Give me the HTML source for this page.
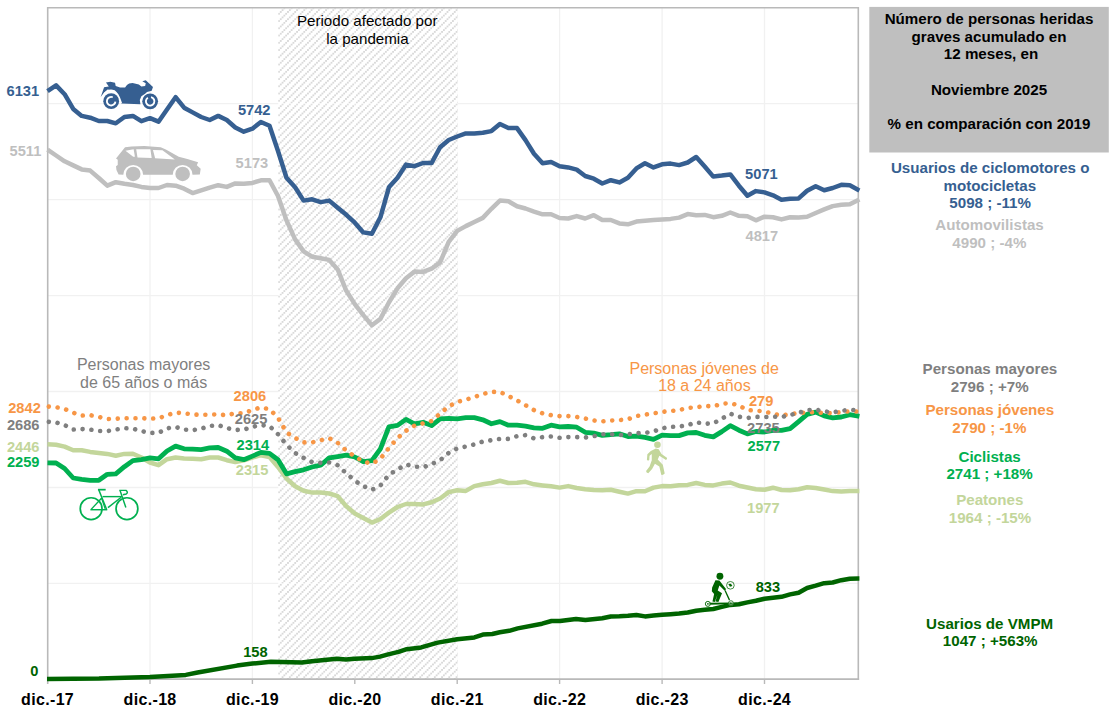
<!DOCTYPE html>
<html><head><meta charset="utf-8"><title>Chart</title>
<style>
html,body{margin:0;padding:0;background:#fff;}
body{width:1117px;height:713px;overflow:hidden;}
svg{display:block;font-family:"Liberation Sans",sans-serif;}
.b{font-weight:bold;}
</style></head><body>
<svg width="1117" height="713" viewBox="0 0 1117 713">
<defs>
<pattern id="hatch" width="7.250" height="7.250" patternUnits="userSpaceOnUse" x="276.2" y="60.0">
<rect width="7.250" height="7.250" fill="#ffffff"/>
<rect x="5.544" y="0.106" width="1.60" height="1.60" fill="#cfcfcf"/>
<rect x="3.731" y="1.919" width="1.60" height="1.60" fill="#cfcfcf"/>
<rect x="1.919" y="3.731" width="1.60" height="1.60" fill="#cfcfcf"/>
<rect x="0.106" y="5.544" width="1.60" height="1.60" fill="#cfcfcf"/>
</pattern>
</defs>
<rect width="1117" height="713" fill="#ffffff"/>

<g stroke="#f1f1f1" stroke-width="1.3" fill="none">
<line x1="150.0" y1="8" x2="150.0" y2="679"/>
<line x1="252.4" y1="8" x2="252.4" y2="679"/>
<line x1="354.8" y1="8" x2="354.8" y2="679"/>
<line x1="457.2" y1="8" x2="457.2" y2="679"/>
<line x1="559.6" y1="8" x2="559.6" y2="679"/>
<line x1="662.1" y1="8" x2="662.1" y2="679"/>
<line x1="764.5" y1="8" x2="764.5" y2="679"/>
<line x1="47" y1="103.7" x2="858" y2="103.7"/>
<line x1="47" y1="199.6" x2="858" y2="199.6"/>
<line x1="47" y1="295.6" x2="858" y2="295.6"/>
<line x1="47" y1="391.5" x2="858" y2="391.5"/>
<line x1="47" y1="487.5" x2="858" y2="487.5"/>
<line x1="47" y1="583.4" x2="858" y2="583.4"/>
</g>
<rect x="278.3" y="8.4" width="179.5" height="670.6" fill="url(#hatch)"/>
<g stroke="#ffffff" stroke-opacity="0.55" stroke-width="1.3">
<line x1="354.8" y1="8" x2="354.8" y2="679"/>
<line x1="278.3" y1="103.7" x2="457.8" y2="103.7"/>
<line x1="278.3" y1="199.6" x2="457.8" y2="199.6"/>
<line x1="278.3" y1="295.6" x2="457.8" y2="295.6"/>
<line x1="278.3" y1="391.5" x2="457.8" y2="391.5"/>
<line x1="278.3" y1="487.5" x2="457.8" y2="487.5"/>
<line x1="278.3" y1="583.4" x2="457.8" y2="583.4"/>
</g>
<g stroke="#b9b9b9" stroke-width="1.6" fill="none">
<polyline points="47.7,684 47.7,7.7 858.3,7.7 858.3,679.9"/>
<line x1="47.7" y1="679.1" x2="859.1" y2="679.1" stroke-width="1.8"/>
<line x1="150.0" y1="679.1" x2="150.0" y2="684" stroke-width="1.4"/>
<line x1="252.4" y1="679.1" x2="252.4" y2="684" stroke-width="1.4"/>
<line x1="354.8" y1="679.1" x2="354.8" y2="684" stroke-width="1.4"/>
<line x1="457.2" y1="679.1" x2="457.2" y2="684" stroke-width="1.4"/>
<line x1="559.6" y1="679.1" x2="559.6" y2="684" stroke-width="1.4"/>
<line x1="662.1" y1="679.1" x2="662.1" y2="684" stroke-width="1.4"/>
<line x1="764.5" y1="679.1" x2="764.5" y2="684" stroke-width="1.4"/>
</g>
<g fill="none" stroke-linejoin="round" stroke-linecap="butt">
<polyline points="47.5,149.6 56.1,155.5 64.6,161.3 73.2,165.4 81.7,169.4 90.2,170.6 98.8,178.0 107.3,185.7 115.8,182.2 124.4,183.8 132.9,185.0 141.4,186.9 150.0,188.0 158.5,188.0 167.0,185.0 175.6,185.7 184.1,188.7 192.6,193.1 201.2,190.4 209.7,187.6 218.2,185.2 226.8,186.9 235.3,183.4 243.8,183.8 252.4,182.9 260.9,180.3 269.5,180.3 278.0,196.0 286.5,220.4 295.1,239.4 303.6,251.4 312.1,256.7 320.7,258.3 329.2,259.9 337.7,269.4 346.3,290.8 354.8,304.1 363.3,315.1 371.9,325.2 380.4,318.9 388.9,302.5 397.5,288.3 406.0,278.2 414.5,271.6 423.1,271.9 431.6,268.7 440.1,262.4 448.7,241.9 457.2,230.9 465.8,226.1 474.3,222.0 482.8,217.9 491.4,208.8 499.9,200.6 508.4,201.3 517.0,206.3 525.5,208.5 534.0,211.6 542.6,214.3 551.1,214.3 559.6,218.0 568.2,218.5 576.7,216.1 585.2,218.5 593.8,215.2 602.3,220.0 610.8,220.0 619.4,223.4 627.9,224.3 636.4,221.6 645.0,220.7 653.5,220.0 662.1,219.4 670.6,218.9 679.1,217.6 687.7,214.1 696.2,215.2 704.7,214.9 713.3,217.2 721.8,215.8 730.3,212.5 738.9,215.8 747.4,216.3 755.9,220.3 764.5,216.7 773.0,217.2 781.5,219.4 790.1,217.2 798.6,217.6 807.1,216.7 815.7,213.0 824.2,209.4 832.7,206.1 841.3,204.8 849.8,204.3 858.4,199.9 859.4,199.4" stroke="#bfbfbf" stroke-width="4.5"/>
<polyline points="47.5,91.2 56.1,85.4 64.6,94.2 73.2,108.9 81.7,115.9 90.2,117.7 98.8,121.0 107.3,121.0 115.8,123.3 124.4,117.0 132.9,115.9 141.4,121.2 150.0,118.2 158.5,121.7 167.0,109.5 175.6,97.2 184.1,107.7 192.6,112.4 201.2,117.0 209.7,120.0 218.2,115.9 226.8,120.0 235.3,127.5 243.8,131.7 252.4,128.7 260.9,122.0 269.5,125.7 278.0,151.0 286.5,177.8 295.1,187.3 303.6,200.6 312.1,199.3 320.7,202.1 329.2,200.6 337.7,207.8 346.3,214.8 354.8,222.7 363.3,232.4 371.9,233.7 380.4,217.3 388.9,187.3 397.5,177.8 406.0,164.6 414.5,166.2 423.1,163.0 431.6,163.0 440.1,147.2 448.7,140.0 457.2,136.5 465.8,133.4 474.3,133.4 482.8,132.7 491.4,131.1 499.9,124.0 508.4,128.0 517.0,128.1 525.5,140.1 534.0,153.8 542.6,163.2 551.1,162.0 559.6,166.2 568.2,167.4 576.7,169.6 585.2,176.0 593.8,178.7 602.3,183.5 610.8,180.2 619.4,182.4 627.9,177.8 636.4,168.4 645.0,163.2 653.5,167.4 662.1,164.3 670.6,163.6 679.1,165.1 687.7,162.5 696.2,157.0 704.7,166.5 713.3,176.6 721.8,175.6 730.3,174.4 738.9,185.7 747.4,195.7 755.9,191.1 764.5,192.4 773.0,195.3 781.5,199.7 790.1,198.8 798.6,198.4 807.1,190.8 815.7,186.2 824.2,190.2 832.7,188.0 841.3,184.8 849.8,185.3 858.4,189.9 859.4,190.4" stroke="#365f91" stroke-width="4.5"/>
<polyline points="47.5,444.2 56.1,444.8 64.6,446.6 73.2,450.3 81.7,450.3 90.2,451.9 98.8,453.0 107.3,453.9 115.8,455.7 124.4,453.9 132.9,453.7 141.4,457.5 150.0,462.5 158.5,465.2 167.0,459.2 175.6,457.5 184.1,458.5 192.6,458.8 201.2,459.2 209.7,457.5 218.2,457.5 226.8,460.2 235.3,462.1 243.8,460.3 252.4,457.5 260.9,455.2 269.5,457.0 278.0,467.0 286.5,478.5 295.1,486.2 303.6,490.7 312.1,492.6 320.7,492.6 329.2,493.5 337.7,496.2 346.3,506.2 354.8,513.5 363.3,518.1 371.9,522.6 380.4,519.0 388.9,512.6 397.5,507.0 406.0,504.0 414.5,504.0 423.1,504.4 431.6,502.2 440.1,498.5 448.7,492.1 457.2,490.3 465.8,490.9 474.3,486.1 482.8,484.3 491.4,483.0 499.9,480.8 508.4,483.0 517.0,482.7 525.5,481.8 534.0,484.3 542.6,485.4 551.1,486.3 559.6,487.6 568.2,486.1 576.7,488.0 585.2,489.2 593.8,490.0 602.3,490.3 610.8,489.8 619.4,491.8 627.9,493.6 636.4,491.2 645.0,491.2 653.5,487.6 662.1,486.1 670.6,486.3 679.1,485.2 687.7,484.9 696.2,483.0 704.7,484.9 713.3,485.4 721.8,483.6 730.3,482.5 738.9,485.7 747.4,487.5 755.9,489.3 764.5,489.7 773.0,487.7 781.5,490.0 790.1,490.3 798.6,489.2 807.1,487.2 815.7,488.0 824.2,489.5 832.7,491.1 841.3,491.5 849.8,491.1 858.4,491.1 859.4,491.1" stroke="#c3d69b" stroke-width="4.5"/>
<polyline points="47.5,462.8 56.1,463.0 64.6,468.5 73.2,478.0 81.7,479.4 90.2,480.3 98.8,480.3 107.3,474.3 115.8,473.8 124.4,466.7 132.9,460.6 141.4,459.7 150.0,457.9 158.5,458.8 167.0,451.0 175.6,446.1 184.1,448.8 192.6,449.2 201.2,449.7 209.7,447.9 218.2,447.5 226.8,451.2 235.3,457.9 243.8,459.7 252.4,456.1 260.9,452.4 269.5,453.4 278.0,459.7 286.5,473.8 295.1,471.6 303.6,469.8 312.1,467.0 320.7,465.2 329.2,457.9 337.7,456.6 346.3,455.2 354.8,457.0 363.3,461.6 371.9,460.6 380.4,448.8 388.9,426.9 397.5,425.4 406.0,419.4 414.5,423.8 423.1,422.3 431.6,425.6 440.1,418.8 448.7,418.3 457.2,418.8 465.8,417.7 474.3,417.7 482.8,419.8 491.4,423.8 499.9,421.6 508.4,425.2 517.0,425.2 525.5,426.1 534.0,427.8 542.6,428.3 551.1,425.2 559.6,426.9 568.2,426.5 576.7,427.2 585.2,432.3 593.8,433.2 602.3,435.3 610.8,434.7 619.4,433.8 627.9,436.5 636.4,436.2 645.0,437.4 653.5,439.3 662.1,435.1 670.6,435.6 679.1,435.6 687.7,432.9 696.2,432.5 704.7,435.3 713.3,436.9 721.8,431.6 730.3,425.7 738.9,430.2 747.4,433.9 755.9,431.5 764.5,432.0 773.0,430.4 781.5,430.4 790.1,428.6 798.6,421.6 807.1,414.4 815.7,412.1 824.2,415.9 832.7,417.8 841.3,417.0 849.8,414.7 858.4,416.2 859.4,416.4" stroke="#00b050" stroke-width="4.8"/>
<polyline points="47.5,406.5 56.1,407.2 64.6,409.0 73.2,412.7 81.7,415.6 90.2,415.1 98.8,416.9 107.3,419.1 115.8,418.7 124.4,418.3 132.9,418.2 141.4,418.2 150.0,418.7 158.5,418.3 167.0,415.1 175.6,412.7 184.1,413.2 192.6,414.5 201.2,414.7 209.7,414.7 218.2,414.3 226.8,415.3 235.3,413.2 243.8,413.2 252.4,410.0 260.9,407.4 269.5,409.2 278.0,417.8 286.5,432.4 295.1,437.9 303.6,442.4 312.1,442.4 320.7,440.2 329.2,438.2 337.7,442.8 346.3,450.6 354.8,456.5 363.3,461.6 371.9,463.7 380.4,458.8 388.9,447.9 397.5,438.2 406.0,430.8 414.5,425.6 423.1,423.4 431.6,421.0 440.1,413.7 448.7,406.4 457.2,401.9 465.8,399.7 474.3,397.0 482.8,394.0 491.4,391.9 499.9,391.9 508.4,396.0 517.0,400.4 525.5,405.2 534.0,410.1 542.6,413.4 551.1,415.2 559.6,416.1 568.2,416.1 576.7,417.0 585.2,418.5 593.8,420.5 602.3,421.4 610.8,420.5 619.4,420.1 627.9,419.2 636.4,416.1 645.0,414.6 653.5,413.4 662.1,411.9 670.6,411.0 679.1,410.1 687.7,407.9 696.2,407.4 704.7,405.9 713.3,406.4 721.8,403.7 730.3,403.2 738.9,405.5 747.4,410.1 755.9,410.6 764.5,411.4 773.0,413.9 781.5,415.5 790.1,414.2 798.6,413.1 807.1,412.4 815.7,412.1 824.2,413.1 832.7,413.1 841.3,412.1 849.8,411.3 858.4,411.6" stroke="#f79646" stroke-width="4.6" stroke-linecap="round" stroke-dasharray="0.01 8.855" stroke-dashoffset="-1.3"/>
<polyline points="47.5,421.8 56.1,422.4 64.6,425.1 73.2,429.6 81.7,429.1 90.2,429.6 98.8,430.9 107.3,431.1 115.8,429.6 124.4,428.2 132.9,428.7 141.4,431.1 150.0,432.9 158.5,432.9 167.0,428.4 175.6,426.9 184.1,429.6 192.6,430.2 201.2,428.7 209.7,426.0 218.2,425.1 226.8,428.1 235.3,430.0 243.8,429.6 252.4,426.9 260.9,425.1 269.5,426.0 278.0,434.2 286.5,444.8 295.1,453.0 303.6,457.9 312.1,462.1 320.7,462.8 329.2,462.5 337.7,465.2 346.3,473.4 354.8,480.7 363.3,486.2 371.9,489.8 380.4,485.6 388.9,474.7 397.5,469.6 406.0,464.5 414.5,466.6 423.1,467.2 431.6,464.2 440.1,460.2 448.7,452.9 457.2,448.4 465.8,446.6 474.3,444.4 482.8,441.6 491.4,440.2 499.9,438.9 508.4,438.9 517.0,436.2 525.5,435.1 534.0,438.4 542.6,437.1 551.1,436.5 559.6,437.8 568.2,437.1 576.7,437.1 585.2,437.5 593.8,436.2 602.3,434.3 610.8,434.2 619.4,435.1 627.9,434.2 636.4,433.2 645.0,432.9 653.5,431.4 662.1,428.3 670.6,426.9 679.1,426.5 687.7,425.2 696.2,422.3 704.7,423.8 713.3,423.4 721.8,418.7 730.3,413.7 738.9,416.7 747.4,418.0 755.9,416.9 764.5,417.0 773.0,416.7 781.5,417.0 790.1,415.0 798.6,412.8 807.1,410.1 815.7,409.6 824.2,411.3 832.7,412.4 841.3,410.8 849.8,409.8 858.4,410.4" stroke="#7f7f7f" stroke-width="4.6" stroke-linecap="round" stroke-dasharray="0.01 8.826" stroke-dashoffset="-1.3"/>
<polyline points="47.0,679.0 99.0,678.6 150.0,677.0 185.8,674.9 197.6,672.5 237.0,665.6 252.4,663.6 270.9,661.8 301.8,662.6 312.0,661.2 336.8,658.7 346.0,659.5 354.7,658.7 371.8,658.1 380.0,656.6 388.2,654.4 398.5,651.9 406.8,649.2 421.2,647.4 437.7,642.6 457.2,639.2 474.4,637.4 482.9,634.6 492.3,634.0 499.8,632.3 509.2,630.8 517.7,628.4 542.1,623.7 551.5,621.0 560.0,621.0 576.0,619.0 585.4,620.1 602.3,618.3 610.8,616.5 619.4,616.3 627.9,615.8 636.4,615.0 645.0,616.4 653.5,615.6 662.1,614.8 670.6,614.2 679.1,613.6 687.7,612.5 696.2,610.7 704.7,609.8 713.3,609.0 721.8,606.9 730.3,604.9 738.9,604.3 747.4,602.4 755.9,600.8 764.5,598.7 773.0,597.7 781.5,596.8 790.1,594.4 798.6,592.7 807.1,588.0 815.7,585.7 824.2,583.2 832.7,582.5 841.3,580.2 849.8,578.7 858.4,578.5 859.4,578.5" stroke="#006400" stroke-width="4.5"/>
</g>
<g id="moto" transform="translate(95,75) scale(0.06267)" fill="#365f91">
<path d="M175,120 L245,108 L320,125 L330,175 L400,200 L480,200 L510,160 L545,135 L600,128 L700,150 L740,182 L800,175 L810,130 L755,100 L810,85 L925,190 L905,250 L830,270 L800,300 L740,340 L715,400 L725,465 L420,455 L400,400 L370,310 L300,245 L200,232 L150,280 L90,355 L145,195 L220,185 Z"/>
<path d="M110,350 L160,285 Q225,230 305,255 Q365,300 400,400 L418,450" fill="none" stroke="#ffffff" stroke-width="28"/>
<circle cx="258" cy="418" r="126"/>
<path d="M325.7,423.9 A68.0,68.0 0 1 1 283.5,355.0" fill="none" stroke="#ffffff" stroke-width="30"/>
<circle cx="880" cy="420" r="126"/>
<path d="M894.1,353.5 A68.0,68.0 0 1 1 844.0,362.3" fill="none" stroke="#ffffff" stroke-width="30"/>
</g>
<g id="car" transform="translate(110,140) scale(0.08595)">
<path fill="#bfbfbf" d="M70,215 L175,85 L250,75 L400,70 L590,85 L650,110 L800,195 L900,220 L1025,260 L1010,295 L1055,335 L1045,400 L960,405 A115,115 0 0 0 730,405 L385,405 A115,115 0 0 0 155,405 L100,400 L75,350 L70,305 L90,290 L90,230 Z"/>
<path fill="#ffffff" d="M180,125 L275,108 L290,195 L270,195 Z M305,108 L470,108 L485,210 L320,205 Z M500,115 L610,120 L755,228 L525,212 Z"/>
<circle cx="270" cy="395" r="85" fill="#bfbfbf"/>
<circle cx="845" cy="395" r="85" fill="#bfbfbf"/>
</g>
<g id="bike" transform="translate(70,480) scale(0.07163)" fill="none" stroke="#00b050" stroke-width="24" stroke-linecap="butt" stroke-linejoin="miter">
<circle cx="295" cy="400" r="152"/>
<circle cx="795" cy="400" r="152"/>
<path d="M390,135 L498,135"/>
<path d="M402,138 L512,412" stroke-width="20"/>
<path d="M438,250 L492,405" stroke-width="16"/>
<path d="M285,415 L520,415" stroke-width="20"/>
<path d="M295,410 L440,255" stroke-width="20"/>
<path d="M455,232 L725,232" stroke-width="20"/>
<path d="M530,385 L715,240" stroke-width="20"/>
<path d="M700,150 L780,385" stroke-width="20"/>
<path d="M688,145 L782,145 Q818,172 785,196 L738,206" stroke-width="20"/>
</g>
<g id="ped" transform="translate(630,435) scale(0.06309)" fill="#c3d69b">
<circle cx="435" cy="155" r="52"/>
<path d="M410,215 L455,225 L500,300 L585,362 Q595,385 570,395 L465,330 L440,390 L520,470 L550,610 Q525,640 495,630 L465,500 L395,455 L350,540 L290,605 Q255,600 255,570 L310,500 L345,400 L345,300 L310,330 L305,395 Q285,410 268,398 L275,305 L330,255 Z"/>
</g>
<g id="scoot" transform="translate(695,565) scale(0.06592)" fill="#006400" stroke="none">
<circle cx="378" cy="170" r="52"/>
<path d="M310,230 L370,235 L470,365 L455,395 L370,310 L345,385 L410,430 L355,560 L310,555 L340,450 L300,560 L265,555 L290,440 L255,400 L260,340 Z"/>
<path d="M460,395 L520,525" stroke="#006400" stroke-width="20" fill="none" stroke-linecap="round"/>
<path d="M205,588 L545,582" stroke="#006400" stroke-width="30" fill="none"/>
<circle cx="195" cy="590" r="38" fill="#ffffff" fill-opacity="0.6" stroke="#006400" stroke-width="14"/>
<circle cx="195" cy="590" r="12"/>
<circle cx="545" cy="580" r="38" fill="#ffffff" fill-opacity="0.35" stroke="#2a7a2a" stroke-width="14"/>
<circle cx="545" cy="580" r="12"/>
<circle cx="537" cy="308" r="58" fill="none" stroke="#006400" stroke-width="11"/>
<path d="M505,290 L545,285 L568,320 L530,330 Z"/>
</g>

<text class="b" x="22.8" y="96.3" font-size="14.67" fill="#365f91" text-anchor="middle">6131</text>
<text class="b" x="25.4" y="155.7" font-size="14.67" fill="#bfbfbf" text-anchor="middle">5511</text>
<text class="b" x="254.2" y="114.6" font-size="14.67" fill="#365f91" text-anchor="middle">5742</text>
<text class="b" x="251.9" y="168.3" font-size="14.67" fill="#bfbfbf" text-anchor="middle">5173</text>
<text class="b" x="761.4" y="178.6" font-size="14.67" fill="#365f91" text-anchor="middle">5071</text>
<text class="b" x="761.8" y="240.5" font-size="14.67" fill="#bfbfbf" text-anchor="middle">4817</text>
<text class="b" x="24.5" y="412.7" font-size="14.67" fill="#f79646" text-anchor="middle">2842</text>
<text class="b" x="23.2" y="430.2" font-size="14.67" fill="#7f7f7f" text-anchor="middle">2686</text>
<text class="b" x="23.2" y="451.6" font-size="14.67" fill="#c3d69b" text-anchor="middle">2446</text>
<text class="b" x="23.2" y="467.3" font-size="14.67" fill="#00b050" text-anchor="middle">2259</text>
<text class="b" x="249.9" y="400.7" font-size="14.67" fill="#f79646" text-anchor="middle">2806</text>
<text class="b" x="251.1" y="423.5" font-size="14.67" fill="#7f7f7f" text-anchor="middle">2625</text>
<text class="b" x="252.8" y="450.3" font-size="14.67" fill="#00b050" text-anchor="middle">2314</text>
<text class="b" x="252.1" y="475.4" font-size="14.67" fill="#c3d69b" text-anchor="middle">2315</text>
<text class="b" x="761.2" y="405.9" font-size="14.67" fill="#f79646" text-anchor="middle">279</text>
<text class="b" x="763.4" y="432.6" font-size="14.67" fill="#7f7f7f" text-anchor="middle">2735</text>
<text class="b" x="763.8" y="450.6" font-size="14.67" fill="#00b050" text-anchor="middle">2577</text>
<text class="b" x="763.3" y="512.8" font-size="14.67" fill="#c3d69b" text-anchor="middle">1977</text>
<text class="b" x="767.9" y="592.1" font-size="14.67" fill="#006400" text-anchor="middle">833</text>
<text class="b" x="255.4" y="656.6" font-size="14.67" fill="#006400" text-anchor="middle">158</text>
<text class="b" x="34.4" y="675.5" font-size="14.67" fill="#006400" text-anchor="middle">0</text>
<text x="367.2" y="26.4" font-size="15.15" fill="#000000" text-anchor="middle">Periodo afectado por</text>
<text x="367.4" y="44.3" font-size="15.15" fill="#000000" text-anchor="middle">la pandemia</text>
<text x="143.6" y="370.1" font-size="16.00" fill="#7f7f7f" text-anchor="middle">Personas mayores</text>
<text x="143.6" y="388.4" font-size="16.00" fill="#7f7f7f" text-anchor="middle">de 65 años o más</text>
<text x="704.2" y="373.8" font-size="16.00" fill="#f79646" text-anchor="middle">Personas jóvenes de</text>
<text x="704.4" y="391.2" font-size="16.00" fill="#f79646" text-anchor="middle">18 a 24 años</text>
<text class="b" x="47.6" y="705.2" font-size="16" letter-spacing="0.33" fill="#000000" text-anchor="middle">dic.-17</text>
<text class="b" x="150.1" y="705.2" font-size="16" letter-spacing="0.33" fill="#000000" text-anchor="middle">dic.-18</text>
<text class="b" x="252.5" y="705.2" font-size="16" letter-spacing="0.33" fill="#000000" text-anchor="middle">dic.-19</text>
<text class="b" x="354.9" y="705.2" font-size="16" letter-spacing="0.33" fill="#000000" text-anchor="middle">dic.-20</text>
<text class="b" x="457.3" y="705.2" font-size="16" letter-spacing="0.33" fill="#000000" text-anchor="middle">dic.-21</text>
<text class="b" x="559.7" y="705.2" font-size="16" letter-spacing="0.33" fill="#000000" text-anchor="middle">dic.-22</text>
<text class="b" x="662.2" y="705.2" font-size="16" letter-spacing="0.33" fill="#000000" text-anchor="middle">dic.-23</text>
<text class="b" x="764.6" y="705.2" font-size="16" letter-spacing="0.33" fill="#000000" text-anchor="middle">dic.-24</text>
<rect x="869.3" y="6.9" width="239.5" height="145.6" fill="#bfbfbf"/>
<text class="b" x="989.0" y="24.0" font-size="15.15" fill="#000" text-anchor="middle">Número de personas heridas</text>
<text class="b" x="989.0" y="42.2" font-size="15.15" fill="#000" text-anchor="middle">graves acumulado en</text>
<text class="b" x="991.0" y="59.0" font-size="15.15" fill="#000" text-anchor="middle">12 meses, en</text>
<text class="b" x="989.0" y="94.7" font-size="15.15" fill="#000" text-anchor="middle">Noviembre 2025</text>
<text class="b" x="989.0" y="129.4" font-size="15.15" fill="#000" text-anchor="middle">% en comparación con 2019</text>
<text class="b" x="990.2" y="172.8" font-size="15.15" fill="#365f91" text-anchor="middle">Usuarios de ciclomotores o</text>
<text class="b" x="989.8" y="190.7" font-size="15.15" fill="#365f91" text-anchor="middle">motocicletas</text>
<text class="b" x="990.2" y="207.5" font-size="15.15" fill="#365f91" text-anchor="middle">5098 ; -11%</text>
<text class="b" x="989.5" y="229.8" font-size="15.15" fill="#bfbfbf" text-anchor="middle">Automovilistas</text>
<text class="b" x="989.4" y="248.3" font-size="15.15" fill="#bfbfbf" text-anchor="middle">4990 ; -4%</text>
<text class="b" x="989.9" y="373.7" font-size="15.15" fill="#7f7f7f" text-anchor="middle">Personas mayores</text>
<text class="b" x="989.7" y="391.9" font-size="15.15" fill="#7f7f7f" text-anchor="middle">2796 ; +7%</text>
<text class="b" x="989.8" y="414.9" font-size="15.15" fill="#f79646" text-anchor="middle">Personas jóvenes</text>
<text class="b" x="989.4" y="432.8" font-size="15.15" fill="#f79646" text-anchor="middle">2790 ; -1%</text>
<text class="b" x="989.6" y="461.9" font-size="15.15" fill="#00b050" text-anchor="middle">Ciclistas</text>
<text class="b" x="989.6" y="478.7" font-size="15.15" fill="#00b050" text-anchor="middle">2741 ; +18%</text>
<text class="b" x="989.8" y="504.9" font-size="15.15" fill="#c3d69b" text-anchor="middle">Peatones</text>
<text class="b" x="990.0" y="522.8" font-size="15.15" fill="#c3d69b" text-anchor="middle">1964 ; -15%</text>
<text class="b" x="989.6" y="628.7" font-size="15.15" fill="#006400" text-anchor="middle">Usarios de VMPM</text>
<text class="b" x="990.2" y="645.7" font-size="15.15" fill="#006400" text-anchor="middle">1047 ; +563%</text>
</svg></body></html>
